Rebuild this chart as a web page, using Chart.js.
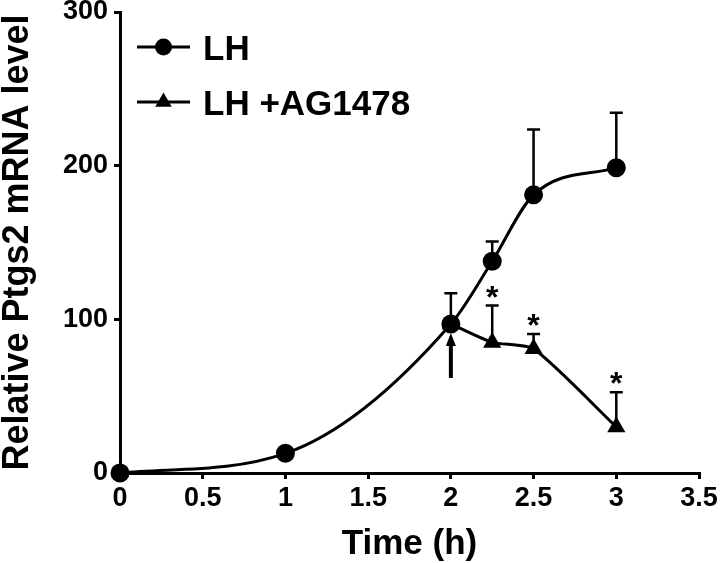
<!DOCTYPE html>
<html>
<head>
<meta charset="utf-8">
<script src="https://cdn.jsdelivr.net/npm/chart.js@4.4.0/dist/chart.umd.min.js"></script>
<style>
  html, body { margin: 0; padding: 0; background: #fff; }
</style>
</head>
<body>
<canvas id="chart" width="720" height="563"></canvas>
<script>
// values
const timeLH = [0, 1, 2, 2.25, 2.5, 3];
const valueLH = [0, 12.8, 97, 137.8, 181, 198.7];
const errLH = [0, 0, 20, 12.8, 42.6, 35.7];

const timeAG = [2, 2.25, 2.5, 3];
const valueAG = [97, 85, 80.8, 30];
const errAG = [0, 24, 9.7, 22.6];
const starAG = [false, true, true, true];

const arrowTime = 2;
const xTicks = [0, 0.5, 1, 1.5, 2, 2.5, 3, 3.5];
const yTicks = [0, 100, 200, 300];

const FONT = "'Liberation Sans', Arial, Helvetica, sans-serif";
Chart.defaults.font.family = FONT;
Chart.defaults.color = '#000';

function toPoints(xs, ys) {
  return xs.map((x, i) => ({ x: x, y: ys[i] }));
}

// upward error bars, asterisks and the arrow
const extras = {
  id: 'extras',
  beforeDatasetsDraw(chart) {
    const { ctx, scales: { x, y } } = chart;
    ctx.save();
    ctx.strokeStyle = '#000';
    ctx.lineWidth = 2.5;
    const bars = (xs, ys, es) => {
      xs.forEach((t, i) => {
        if (!es[i]) return;
        const px = x.getPixelForValue(t);
        const y0 = y.getPixelForValue(ys[i]);
        const y1 = y.getPixelForValue(ys[i] + es[i]);
        ctx.beginPath();
        ctx.moveTo(px, y0);
        ctx.lineTo(px, y1);
        ctx.moveTo(px - 6.5, y1);
        ctx.lineTo(px + 6.5, y1);
        ctx.stroke();
      });
    };
    bars(timeLH, valueLH, errLH);
    bars(timeAG, valueAG, errAG);
    ctx.restore();
  },
  afterDatasetsDraw(chart) {
    const { ctx, scales: { x, y } } = chart;
    ctx.save();
    ctx.fillStyle = '#000';
    ctx.font = 'bold 32px ' + FONT;
    ctx.textAlign = 'center';
    ctx.textBaseline = 'alphabetic';
    timeAG.forEach((t, i) => {
      if (!starAG[i]) return;
      const px = x.getPixelForValue(t);
      const top = y.getPixelForValue(valueAG[i] + errAG[i]);
      ctx.fillText('*', px, top + 2);
    });

    // arrow under the 2 h point
    const ax = x.getPixelForValue(arrowTime);
    const ay = y.getPixelForValue(valueLH[timeLH.indexOf(arrowTime)]);
    ctx.lineWidth = 4;
    ctx.strokeStyle = '#000';
    ctx.beginPath();
    ctx.moveTo(ax, ay + 54);
    ctx.lineTo(ax, ay + 20);
    ctx.stroke();
    ctx.beginPath();
    ctx.moveTo(ax, ay + 9);
    ctx.lineTo(ax - 5, ay + 22);
    ctx.lineTo(ax + 5, ay + 22);
    ctx.closePath();
    ctx.fill();
    ctx.restore();
  },
  afterDraw(chart) {
    const { ctx } = chart;
    ctx.save();
    const rows = [
      { label: chart.data.datasets[0].label, style: 'circle', r: 8.5, y: 47 },
      { label: chart.data.datasets[1].label, style: 'triangle', r: 9.5, y: 102 }
    ];
    rows.forEach(row => {
      ctx.strokeStyle = '#000';
      ctx.fillStyle = '#000';
      ctx.lineWidth = 3;
      ctx.beginPath();
      ctx.moveTo(137, row.y);
      ctx.lineTo(190, row.y);
      ctx.stroke();
      Chart.helpers.drawPoint(ctx, { pointStyle: row.style, radius: row.r, borderWidth: 0 }, 163.5, row.y);
      ctx.font = 'bold 35px ' + FONT;
      ctx.textAlign = 'left';
      ctx.textBaseline = 'alphabetic';
      ctx.fillText(row.label, 203, row.y + 13);
    });
    ctx.restore();
  }
};

new Chart(document.getElementById('chart'), {
  type: 'scatter',
  data: {
    datasets: [
      {
        label: 'LH',
        data: toPoints(timeLH, valueLH),
        showLine: true,
        borderColor: '#000',
        backgroundColor: '#000',
        borderWidth: 3,
        pointStyle: 'circle',
        pointRadius: 9.5,
        pointBorderWidth: 0,
        cubicInterpolationMode: 'monotone',
        clip: false
      },
      {
        label: 'LH +AG1478',
        data: toPoints(timeAG, valueAG),
        showLine: true,
        borderColor: '#000',
        backgroundColor: '#000',
        borderWidth: 3,
        pointStyle: 'triangle',
        pointRadius: 10.5,
        pointBorderWidth: 0,
        tension: 0.2,
        clip: false
      }
    ]
  },
  options: {
    responsive: false,
    animation: false,
    devicePixelRatio: 1,
    layout: { padding: { top: 12, right: 21, left: 0, bottom: 0 } },
    plugins: { legend: { display: false }, tooltip: { enabled: false } },
    scales: {
      x: {
        type: 'linear',
        min: 0,
        max: 3.5,
        afterBuildTicks: s => { s.ticks = xTicks.map(v => ({ value: v })); },
        afterFit: s => { s.height = 90; s.paddingLeft = 0; s.paddingRight = 0; },
        ticks: {
          font: { size: 27, weight: 'bold', lineHeight: 1 }, color: '#000', padding: 6, maxRotation: 0,
          callback: v => String(v)
        },
        border: { color: '#000', width: 3 },
        grid: { drawOnChartArea: false, color: '#000', tickLength: 6, lineWidth: 3 },
        title: {
          display: true, text: 'Time (h)', color: '#000',
          font: { size: 35, weight: 'bold', lineHeight: 1 },
          padding: { top: 0, bottom: 1 }
        }
      },
      y: {
        min: 0,
        max: 300,
        afterBuildTicks: s => { s.ticks = yTicks.map(v => ({ value: v })); },
        afterFit: s => { s.width = 120; s.paddingTop = 0; s.paddingBottom = 0; },
        ticks: {
          font: { size: 27, weight: 'bold', lineHeight: 1 }, color: '#000', padding: 6,
          callback: v => String(v)
        },
        border: { color: '#000', width: 3 },
        grid: { drawOnChartArea: false, color: '#000', tickLength: 6, lineWidth: 3 },
        title: {
          display: true, text: 'Relative Ptgs2 mRNA level', color: '#000',
          font: { size: 36, weight: 'bold', lineHeight: 1 },
          padding: { top: 0, bottom: 0 }
        }
      }
    }
  },
  plugins: [extras]
});
</script>
</body>
</html>
